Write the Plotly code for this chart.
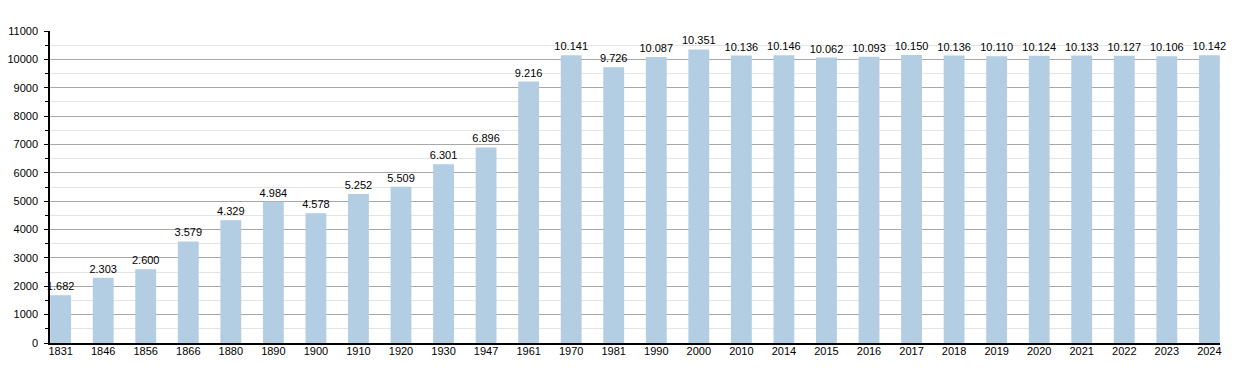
import plotly.graph_objects as go

years = ["1831", "1846", "1856", "1866", "1880", "1890", "1900", "1910", "1920", "1930",
         "1947", "1961", "1970", "1981", "1990", "2000", "2010", "2014", "2015", "2016",
         "2017", "2018", "2019", "2020", "2021", "2022", "2023", "2024"]
population = [1682, 2303, 2600, 3579, 4329, 4984, 4578, 5252, 5509, 6301,
              6896, 9216, 10141, 9726, 10087, 10351, 10136, 10146, 10062, 10093,
              10150, 10136, 10110, 10124, 10133, 10127, 10106, 10142]

labels = [f"{v:,}".replace(",", ".") for v in population]

fig = go.Figure(go.Bar(
    x=years, y=population, text=labels, textposition="outside",
    marker=dict(color="#b3cde3", line=dict(width=0)),
    textfont=dict(color="black", size=11), cliponaxis=False,
    constraintext="none", hoverinfo="x+y",
))

n = len(years)
fig.update_layout(
    width=1250, height=373,
    margin=dict(l=42, r=38, t=23, b=38, autoexpand=False),
    paper_bgcolor="white", plot_bgcolor="white",
    font=dict(family="Liberation Sans, Arial, sans-serif", size=11, color="black"),
    bargap=0.51, showlegend=False,
    xaxis=dict(type="category", range=[-0.25, n - 1 + 0.25],
               showline=True, linecolor="black", linewidth=1.5,
               ticks="", showgrid=False, tickfont=dict(size=11), automargin=False,
               ticklabelstandoff=-3),
    yaxis=dict(range=[0, 11000], dtick=1000, tickformat="d",
               showline=True, linecolor="black", linewidth=1.5,
               ticks="outside", ticklen=4, tickcolor="black",
               showgrid=True, gridcolor="#a8a8a8", gridwidth=1,
               minor=dict(dtick=500, showgrid=True, gridcolor="#e4e4e4",
                          ticks="outside", ticklen=3, tickcolor="black"),
               zeroline=False, tickfont=dict(size=11), automargin=False,
               ticklabelstandoff=4),
)

fig.write_html("out.html")
